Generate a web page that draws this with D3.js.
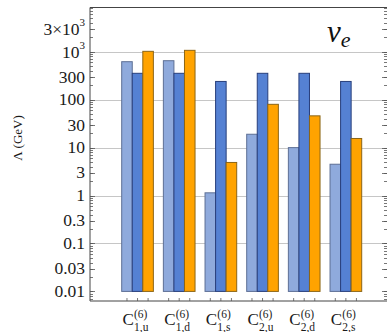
<!DOCTYPE html>
<html><head><meta charset="utf-8">
<script src="https://cdn.jsdelivr.net/npm/d3@7"></script>
<style>body{margin:0;background:#fff}svg{display:block}</style>
</head><body>
<script>
const categories = [["1","u"],["1","d"],["1","s"],["2","u"],["2","d"],["2","s"]];
const seriesA = [620, 650, 1.14, 19, 10, 4.5];     // light blue
const seriesB = [355, 355, 240, 355, 355, 240];    // mid blue
const seriesC = [1020, 1070, 4.9, 80, 46, 15.5];   // orange
const tickVals = [3000, 1000, 300, 100, 30, 10, 3, 1, 0.3, 0.1, 0.03, 0.01];
const gridVals = [1000, 100, 10, 1, 0.1];

const W = 387, H = 332;
const L = 90, R = 387, T = 7.5, B = 301;
const FONT = "Liberation Serif";
const svg = d3.select("body").append("svg").attr("width", W).attr("height", H);

const y = d3.scaleLog().domain([Math.pow(10,-2.2), Math.pow(10,3.923)]).range([B, T]);
const x = d3.scaleBand().domain(d3.range(categories.length)).range([116.7, 366.7]).paddingInner(0.24).paddingOuter(0.12);
const xs = d3.scaleBand().domain([0,1,2]).range([0, x.bandwidth()]);

// grid
svg.append("g").selectAll("line").data(gridVals).join("line")
  .attr("x1", L).attr("x2", R).attr("y1", d => Math.round(y(d)) + 0.5).attr("y2", d => Math.round(y(d)) + 0.5)
  .attr("stroke", "#c6c6c6").attr("stroke-width", 1);

const series = [
  {vals: seriesA, fill: "#8faadc", stroke: "#5d6f95"},
  {vals: seriesB, fill: "#5581d3", stroke: "#283f7c"},
  {vals: seriesC, fill: "#ffa300", stroke: "#8c6516"}
];
const base = 0.01;
series.forEach((s, si) => {
  svg.append("g").selectAll("rect").data(s.vals).join("rect")
    .attr("x", (d, i) => x(i) + xs(si))
    .attr("width", xs.bandwidth())
    .attr("y", d => y(d))
    .attr("height", d => y(base) - y(d))
    .attr("fill", s.fill).attr("stroke", s.stroke).attr("stroke-width", 1);
});

// frame
svg.append("line").attr("x1", L).attr("x2", L).attr("y1", T).attr("y2", B).attr("stroke", "#444").attr("stroke-width", 1);
svg.append("line").attr("x1", L).attr("x2", R).attr("y1", B).attr("y2", B).attr("stroke", "#444").attr("stroke-width", 1);
svg.append("line").attr("x1", L).attr("x2", R).attr("y1", T).attr("y2", T).attr("stroke", "#444").attr("stroke-width", 1);

// minor ticks
const minor = [];
for (let e = -3; e <= 3; e++) for (let m = 1; m <= 9; m++) {
  const v = m * Math.pow(10, e);
  if (y(v) >= T && y(v) <= B) minor.push(v);
}
const tg = svg.append("g").attr("stroke", "#555").attr("stroke-width", 0.8);
tg.selectAll(".mn").data(minor).join("line")
  .attr("x1", L).attr("x2", L + 3).attr("y1", d => Math.round(y(d)) + 0.5).attr("y2", d => Math.round(y(d)) + 0.5);
tg.selectAll(".mj").data(tickVals).join("line")
  .attr("x1", L).attr("x2", L + 5).attr("y1", d => Math.round(y(d)) + 0.5).attr("y2", d => Math.round(y(d)) + 0.5);
tg.selectAll(".rmn").data(minor).join("line")
  .attr("x1", R - 3).attr("x2", R).attr("y1", d => Math.round(y(d)) + 0.5).attr("y2", d => Math.round(y(d)) + 0.5);
tg.selectAll(".rmj").data(tickVals).join("line")
  .attr("x1", R - 5).attr("x2", R).attr("y1", d => Math.round(y(d)) + 0.5).attr("y2", d => Math.round(y(d)) + 0.5);
// bottom ticks at bar centers
const btk = [];
categories.forEach((c, i) => [0,1,2].forEach(j => btk.push(x(i) + xs(j) + xs.bandwidth()/2)));
tg.selectAll(".bt").data(btk).join("line")
  .attr("x1", d => d).attr("x2", d => d).attr("y1", B).attr("y2", B - 3);

// tick labels
const lab = svg.append("g").attr("font-family", FONT).attr("font-size", 17.5).attr("fill", "#1a1a1a");
tickVals.forEach(v => {
  const t = lab.append("text").attr("x", 85).attr("y", y(v)).attr("dy", "0.33em").attr("text-anchor", "end");
  if (v === 3000) { t.text("3×10"); t.append("tspan").attr("font-size", 11).attr("dy", "-0.75em").text("3"); }
  else if (v === 1000) { t.text("10"); t.append("tspan").attr("font-size", 11).attr("dy", "-0.75em").text("3"); }
  else t.text(String(v));
});

// category labels (one text each: C with stacked superscript and subscript)
const cl = svg.append("g").attr("font-family", FONT).attr("fill", "#1a1a1a");
categories.forEach((c, i) => {
  const cx = x(i) + x.bandwidth()/2;
  const t = cl.append("text").attr("x", cx - 15).attr("y", 325).attr("font-size", 17).text("C");
  t.append("tspan").attr("x", cx - 3.5).attr("y", 317.5).attr("font-size", 11.5).text("(6)");
  t.append("tspan").attr("x", cx - 3.5).attr("y", 330.5).attr("font-size", 11.5).text(c[0] + "," + c[1]);
});

// axis title
svg.append("text").attr("transform", "translate(22,138) rotate(-90)").attr("text-anchor", "middle")
  .attr("font-family", FONT).attr("font-size", 13).attr("fill", "#1a1a1a").text("Λ (GeV)");

// panel label
const nu = svg.append("text").attr("x", 327).attr("y", 42).attr("font-family", FONT)
  .attr("font-style", "italic").attr("font-size", 31).attr("fill", "#111").text("ν");
nu.append("tspan").attr("font-size", 22).attr("dy", 5).text("e");
</script>
</body></html>
